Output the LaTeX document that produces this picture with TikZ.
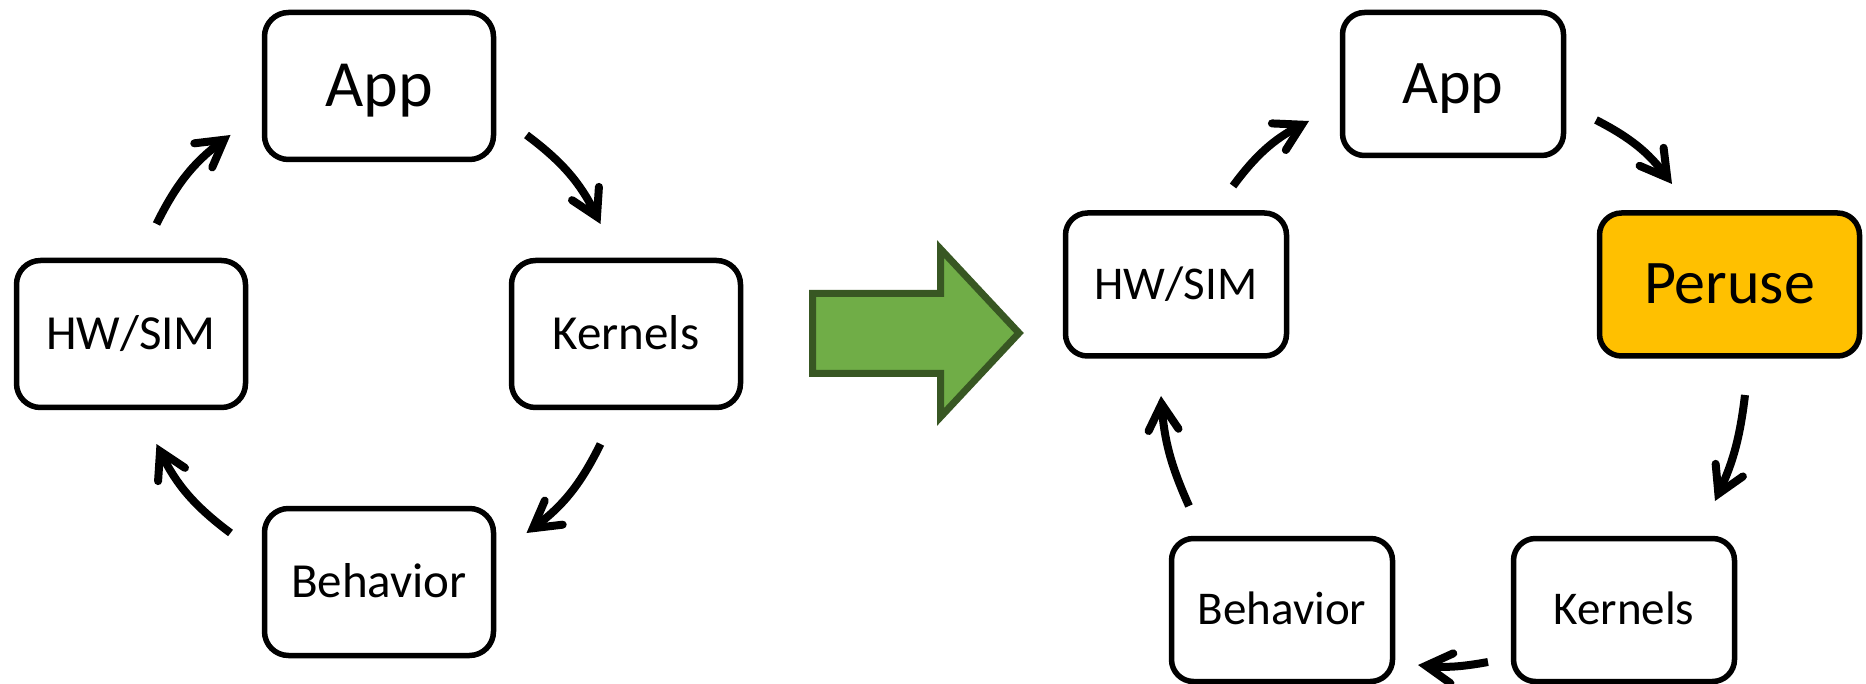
\documentclass[tikz,border=0pt]{standalone}
\usepackage{fontspec}
\setmainfont{Carlito}
\usetikzlibrary{arrows.meta,calc}
\definecolor{peruse}{HTML}{FFC000}
\definecolor{arrowfill}{HTML}{70AD47}
\definecolor{arrowline}{HTML}{385723}
\begin{document}
\begin{tikzpicture}[x=1pt,y=1pt,
  box/.style={draw=black, line width=5.5pt, rounded corners=24pt, fill=white,
    minimum width=229pt, minimum height=147pt, inner sep=0pt,
    text depth=0pt, align=center},
  rbox/.style={box, minimum width=221pt, minimum height=143pt, rounded corners=22pt},
  lbig/.style={font=\fontsize{66}{66}\selectfont, text height=41.7pt},
  lsmall/.style={font=\fontsize{49}{49}\selectfont, text height=31pt},
  rbig/.style={font=\fontsize{62}{62}\selectfont, text height=39pt},
  rsmall/.style={font=\fontsize{47}{47}\selectfont, text height=29.7pt},
  conn/.style={line width=8pt,
    -{Straight Barb[length=26pt,width=30pt,line cap=round,line join=miter]}},
  bigarrow/.style={fill=arrowfill, draw=arrowline, line width=7pt, line join=miter},
]
\useasboundingbox (0,0) rectangle (1866,-684);

% ---------- original cycle ----------
\node[box,lbig]   (lapp) at (379,-86)  {App};
\node[box,lsmall] (lhw)  at (131,-334) {HW/SIM};
\node[box,lsmall] (lker) at (626,-334) {Kernels};
\node[box,lsmall] (lbeh) at (379,-582) {Behavior};

\coordinate (lc) at (378.5,-334);
\coordinate (l1s) at ($(lc)+(-222,110)$);
\coordinate (l1e) at ($(lc)+(-148,199)$);
\coordinate (l2s) at ($(lc)+(148,199)$);
\coordinate (l2e) at ($(lc)+(222,110)$);
\coordinate (l3s) at ($(lc)+(222,-110)$);
\coordinate (l3e) at ($(lc)+(148,-199)$);
\coordinate (l4s) at ($(lc)+(-148,-199)$);
\coordinate (l4e) at ($(lc)+(-222,-110)$);

\draw[conn] (l1s) to[bend left=13.5] (l1e);
\draw[conn] (l2s) to[bend left=13.5] (l2e);
\draw[conn] (l3s) to[bend left=13.5] (l3e);
\draw[conn] (l4s) to[bend left=13.5] (l4e);

% ---------- transition arrow ----------
\draw[bigarrow] (812.5,-293.5) -- (940.5,-293.5) -- (940.5,-249) -- (1019,-333)
  -- (940.5,-417) -- (940.5,-373.5) -- (812.5,-373.5) -- cycle;

% ---------- cycle with Peruse ----------
\node[rbox,rbig]   (rapp) at (1453,-84)     {App};
\node[rbox,rsmall] (rhw)  at (1176,-284.5)  {HW/SIM};
\node[rbox,rbig,fill=peruse,minimum width=260pt] (rper) at (1729.5,-284.5) {Peruse};
\node[rbox,rsmall] (rbeh) at (1282,-610)    {Behavior};
\node[rbox,rsmall] (rker) at (1624,-610)    {Kernels};

\coordinate (r1s) at (1233,-186);
\coordinate (r1e) at (1309,-121);
\coordinate (r2s) at (1596,-120);
\coordinate (r2e) at (1672,-184);
\coordinate (r3s) at (1745,-395);
\coordinate (r3e) at (1715,-501);
\coordinate (r4s) at (1488,-662);
\coordinate (r4e) at (1418,-665);
\coordinate (r5s) at (1189,-506);
\coordinate (r5e) at (1161,-396);

\draw[conn] (r1s) to[bend left=13] (r1e);
\draw[conn] (r2s) to[bend left=13] (r2e);
\draw[conn] (r3s) to[bend left=9]  (r3e);
\draw[conn] (r4s) to[bend left=8]  (r4e);
\draw[conn] (r5s) to[bend left=10] (r5e);
\end{tikzpicture}
\end{document}
